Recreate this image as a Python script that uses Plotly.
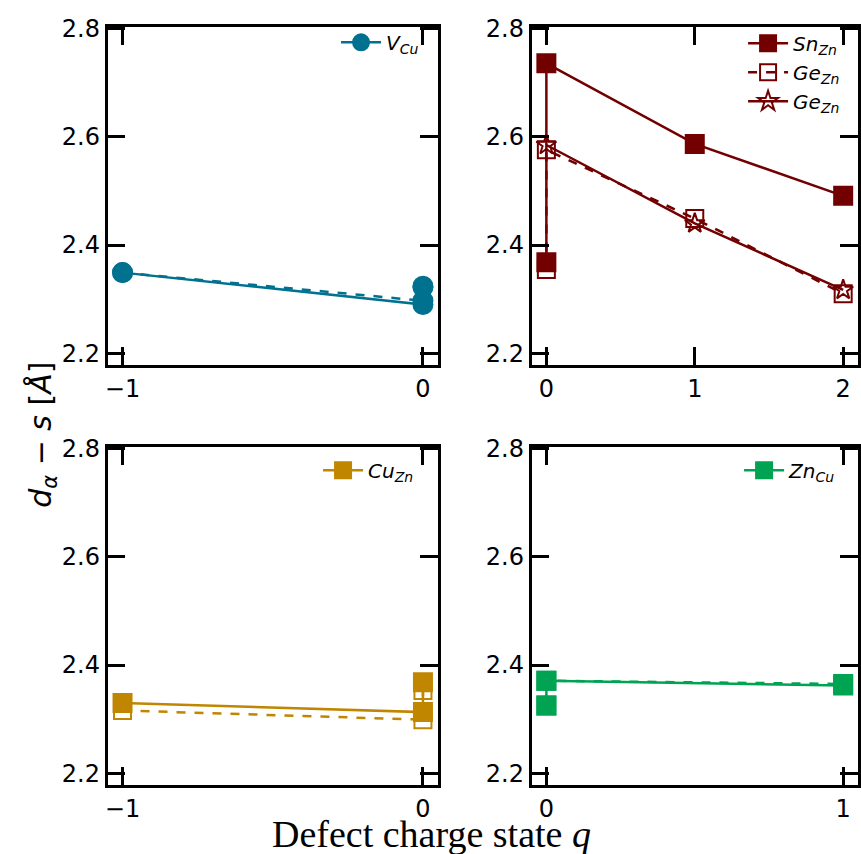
import plotly.graph_objects as go

# ---------------- data ----------------
# V_Cu
vcu_q_solid = [-1, 0, 0]
vcu_d_solid = [2.349, 2.290, 2.324]
vcu_q_dash = [-1, 0, 0]
vcu_d_dash = [2.349, 2.297, 2.322]

# Sn_Zn (solid, filled squares)
snzn_q = [0, 0, 1, 2]
snzn_d = [2.368, 2.736, 2.587, 2.491]
# Ge_Zn (dashed, open squares)
gezn_sq_q = [0, 0, 1, 2]
gezn_sq_d = [2.355, 2.576, 2.449, 2.310]
# Ge_Zn (solid, open stars)
gezn_st_q = [0, 1, 2]
gezn_st_d = [2.585, 2.440, 2.317]

# Cu_Zn
cuzn_q_solid = [-1, 0, 0]
cuzn_d_solid = [2.330, 2.313, 2.368]
cuzn_q_dash = [-1, 0, 0]
cuzn_d_dash = [2.316, 2.299, 2.353]

# Zn_Cu
zncu_q_solid = [0, 0, 1]
zncu_d_solid = [2.325, 2.371, 2.362]
zncu_q_dash = [0, 0, 1]
zncu_d_dash = [2.325, 2.371, 2.365]

y_ticks = [2.2, 2.4, 2.6, 2.8]
x_ticks_tl = [-1, 0]
x_ticks_tr = [0, 1, 2]
x_ticks_bl = [-1, 0]
x_ticks_br = [0, 1]

C_V = "#00718f"
C_SN = "#730000"
C_CU = "#c08600"
C_ZN = "#00a352"

W, H = 861, 854
LW = 2.5

fig = go.Figure()


def add(x, y, color, symbol, dash, xa, ya, name=None, legend=None, size=18, show=False):
    fig.add_trace(go.Scatter(
        x=x, y=y, mode="lines+markers",
        line=dict(color=color, width=LW, dash=dash),
        marker=dict(color=color, symbol=symbol, size=size,
                    line=dict(color=color, width=2)),
        xaxis=xa, yaxis=ya, name=name, showlegend=show,
        legend=legend,
    ))


# top-left
add(vcu_q_dash, vcu_d_dash, C_V, "circle", "dash", "x", "y", size=19)
add(vcu_q_solid, vcu_d_solid, C_V, "circle", "solid", "x", "y",
    name="<i>V<sub>Cu</sub></i>", legend="legend", size=19, show=True)
# top-right
add(snzn_q, snzn_d, C_SN, "square", "solid", "x2", "y2",
    name="<i>Sn<sub>Zn</sub></i>", legend="legend2", show=True)
add(gezn_sq_q, gezn_sq_d, C_SN, "square-open", "dash", "x2", "y2",
    name="<i>Ge<sub>Zn</sub></i>", legend="legend2", size=17, show=True)
add(gezn_st_q, gezn_st_d, C_SN, "star-open", "solid", "x2", "y2",
    name="<i>Ge<sub>Zn</sub></i>", legend="legend2", size=15, show=True)
# bottom-left
add(cuzn_q_dash, cuzn_d_dash, C_CU, "square-open", "dash", "x3", "y3", size=17)
add(cuzn_q_solid, cuzn_d_solid, C_CU, "square", "solid", "x3", "y3",
    name="<i>Cu<sub>Zn</sub></i>", legend="legend3", show=True)
# bottom-right
add(zncu_q_dash, zncu_d_dash, C_ZN, "square", "dash", "x4", "y4")
add(zncu_q_solid, zncu_d_solid, C_ZN, "square", "solid", "x4", "y4",
    name="<i>Zn<sub>Cu</sub></i>", legend="legend4", show=True)

xl = [105 / W, 437 / W]
xr = [531 / W, 859 / W]
yt = [1 - 359 / H, 1 - 15 / H]
yb = [1 - 786 / H, 1 - 442 / H]
yrange = [2.178, 2.8036]

tickfont = dict(family="DejaVu Sans", size=24, color="black")
common = dict(showline=True, linewidth=LW, linecolor="black", mirror="ticks",
              ticks="inside", ticklen=18, tickwidth=LW, tickcolor="black",
              showgrid=False, zeroline=False, tickfont=tickfont)


def xax(dom, anchor, rng, tv):
    return dict(domain=dom, anchor=anchor, range=rng, tickvals=tv, **common)


def yax(dom, anchor):
    return dict(domain=dom, anchor=anchor, range=yrange, tickvals=y_ticks,
                tickformat=".1f", **common)


legfont = dict(family="DejaVu Sans", size=20, color="black")
legcommon = dict(font=legfont, bgcolor="rgba(0,0,0,0)", borderwidth=0,
                 xanchor="right", yanchor="top", tracegroupgap=0, itemwidth=40)

fig.update_layout(
    width=W, height=H,
    margin=dict(l=0, r=0, t=0, b=0),
    paper_bgcolor="white", plot_bgcolor="white",
    xaxis=xax(xl, "y", [-1.05, 0.05], x_ticks_tl),
    yaxis=yax(yt, "x"),
    xaxis2=xax(xr, "y2", [-0.1, 2.1], x_ticks_tr),
    yaxis2=yax(yt, "x2"),
    xaxis3=xax(xl, "y3", [-1.05, 0.05], x_ticks_bl),
    yaxis3=yax(yb, "x3"),
    xaxis4=xax(xr, "y4", [-0.05, 1.05], x_ticks_br),
    yaxis4=yax(yb, "x4"),
    legend=dict(x=423 / W, y=1 - 11 / H, **legcommon),
    legend2=dict(x=846 / W, y=1 - 12 / H, **legcommon),
    legend3=dict(x=418 / W, y=1 - 446 / H, **legcommon),
    legend4=dict(x=842 / W, y=1 - 446 / H, **legcommon),
    showlegend=True,
)

fig.add_annotation(
    text="<i>d</i><sub><i>α</i></sub> − <i>s</i> [<i>Å</i>]",
    xref="paper", yref="paper", x=40 / W, y=1 - 430 / H,
    xanchor="center", yanchor="middle", textangle=-90, showarrow=False,
    font=dict(family="DejaVu Sans", size=30, color="black"),
)
fig.add_annotation(
    text="Defect charge state <i>q</i>",
    xref="paper", yref="paper", x=430 / W, y=1 - 836 / H,
    xanchor="center", yanchor="middle", showarrow=False,
    font=dict(family="Liberation Serif", size=38, color="black"),
)

post = ("document.documentElement.style.margin='0';"
        "document.body.style.margin='0';document.body.style.padding='0';"
        "var gd=document.getElementById('{plot_id}');"
        "gd.style.position='absolute';gd.style.left='0px';gd.style.top='0px';")
fig.write_html("out.html", post_script=post, config={"displayModeBar": False})
